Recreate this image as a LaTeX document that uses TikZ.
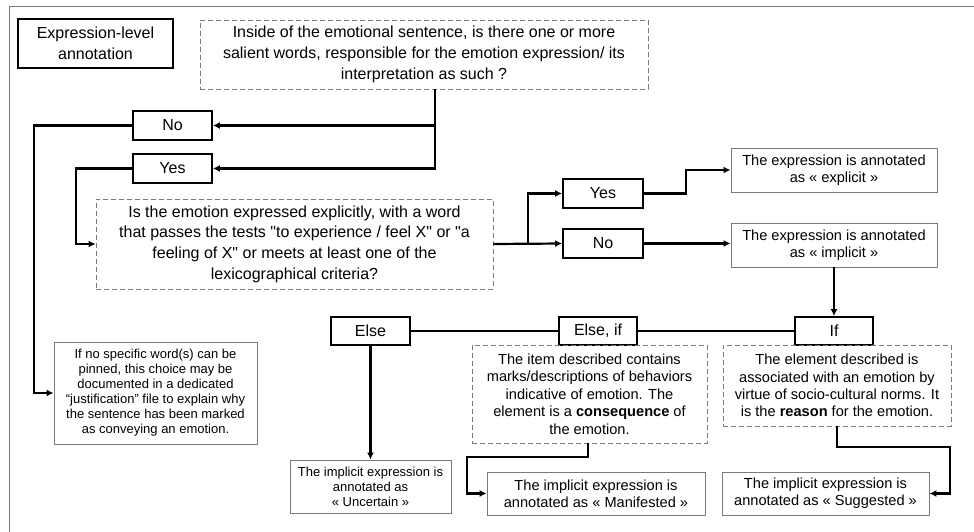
\documentclass[tikz,border=0pt]{standalone}
\usepackage{fontspec}
\setmainfont{Liberation Sans}
\usetikzlibrary{arrows.meta}
\definecolor{frame}{HTML}{7A7A7A}

\newcommand{\bigtxt}{\fontsize{16}{20.7}\selectfont}
\newcommand{\midtxt}{\fontsize{14.6}{17.4}\selectfont}
\newcommand{\smalltxt}{\fontsize{13}{15}\selectfont}

\begin{document}
\begin{tikzpicture}[x=1pt,y=-1pt,
    thick box/.style={draw,line width=1.8pt,align=center,inner sep=0pt,font=\bigtxt},
    dash box/.style={draw=frame,dash pattern=on 5pt off 3pt,line width=0.9pt,align=center,inner sep=0pt},
    thin box/.style={draw=frame,line width=0.9pt,align=center,inner sep=0pt},
    link/.style={line width=2.2pt},
    arr/.style={link,-{Latex[length=7pt,width=7pt]}}]
        \useasboundingbox (0,0) rectangle (974,532);
        \draw[frame,line width=0.8pt] (9,532) -- (9,6) -- (974,6);

        \path
        % top
        (95.5,43.5) node[thick box,minimum width=155pt,minimum height=49pt](expr) {Expression-level\\annotation}
        (424,54.5) node[dash box,minimum width=448pt,minimum height=69pt,font=\bigtxt](q1)
            {Inside of the emotional sentence, is there one or more\\salient words, responsible for the emotion expression/ its\\interpretation as such ?}
        (172.5,125.5) node[thick box,minimum width=79pt,minimum height=29pt](no1) {No}
        (172.5,168.5) node[thick box,minimum width=79pt,minimum height=29pt](yes1) {Yes}

        % left
        (155.5,393) node[thin box,minimum width=203pt,minimum height=102pt,font=\smalltxt](just)
            {If no specific word(s) can be\\pinned, this choice may be\\documented in a dedicated\\“justification” file to explain why\\the sentence has been marked\\as conveying an emotion.}
        (294.5,244) node[dash box,minimum width=397pt,minimum height=90pt,font=\bigtxt](q2)
            {Is the emotion expressed explicitly, with a word\\that passes the tests \textquotedbl to experience / feel X\textquotedbl{} or \textquotedbl a\\feeling of X\textquotedbl{} or meets at least one of the\\lexicographical criteria?}

        % right
        (603,193.5) node[thick box,minimum width=80pt,minimum height=29pt](yes2) {Yes}
        (603,243.5) node[thick box,minimum width=80pt,minimum height=29pt](no2) {No}
        (834,170) node[thin box,minimum width=206pt,minimum height=44pt,font=\midtxt](expl)
            {The expression is annotated\\as « explicit »}
        (834,245) node[thin box,minimum width=206pt,minimum height=44pt,font=\midtxt](impl)
            {The expression is annotated\\as « implicit »}

        % bottom
        (834,331) node[thick box,minimum width=78pt,minimum height=28pt](ifb) {If}
        (598,331) node[thick box,minimum width=78pt,minimum height=28pt](elseif) {Else, if}
        (370.5,331) node[thick box,minimum width=79pt,minimum height=28pt](elseb) {Else}
        (589.5,394) node[dash box,minimum width=235pt,minimum height=98pt,font=\midtxt](cons)
            {The item described contains\\marks/descriptions of behaviors\\indicative of emotion. The\\element is a \textbf{consequence} of\\the emotion.}
        (837,385.5) node[dash box,minimum width=228pt,minimum height=81pt,font=\midtxt](reas)
            {The element described is\\associated with an emotion by\\virtue of socio-cultural norms. It\\is the \textbf{reason} for the emotion.}
        (370.5,486.5) node[thin box,minimum width=161pt,minimum height=53pt,font=\smalltxt](unc)
            {The implicit expression is\\annotated as\\« Uncertain »}
        (596,493.5) node[thin box,minimum width=218pt,minimum height=43pt,font=\midtxt](manif)
            {The implicit expression is\\annotated as « Manifested »}
        (825.5,493.5) node[thin box,minimum width=207pt,minimum height=43pt,font=\midtxt](sugg)
            {The implicit expression is\\annotated as « Suggested »}
        ;

        \coordinate (c1) at (34,300);
        \coordinate (c2) at (76,200);
        \coordinate (c3) at (528,220);
        \coordinate (c4) at (686,180);
        \coordinate (c5) at (467,457);
        \coordinate (c6) at (950,447);

        \draw[arr] ([xshift=11pt]q1.south) |- (no1.east);
        \draw[arr] ([xshift=11pt]q1.south) |- (yes1.east);
        \draw[arr] (no1.west) -| (c1) |- (just.west);
        \draw[arr] (yes1.west) -| (c2) |- (q2.west);

        \draw[arr] (q2.east) -- (no2.west);
        \draw[arr] (q2.east -| c3) |- (yes2.west);
        \draw[arr] (yes2.east) -| (c4) |- (expl.west);
        \draw[arr] (no2.east) -- (no2.east -| impl.west);
        \draw[arr] (impl) -- (ifb);

        \draw[link] (elseb) -- (elseif);
        \draw[link] (elseif) -- (ifb);
        \draw[arr] (elseb) -- (unc);
        \draw[arr] ([xshift=-1.5pt]cons.south) |- (c5) |- (manif.west);
        \draw[arr] (reas.south) |- (c6) |- (sugg.east);
      \end{tikzpicture}
\end{document}
